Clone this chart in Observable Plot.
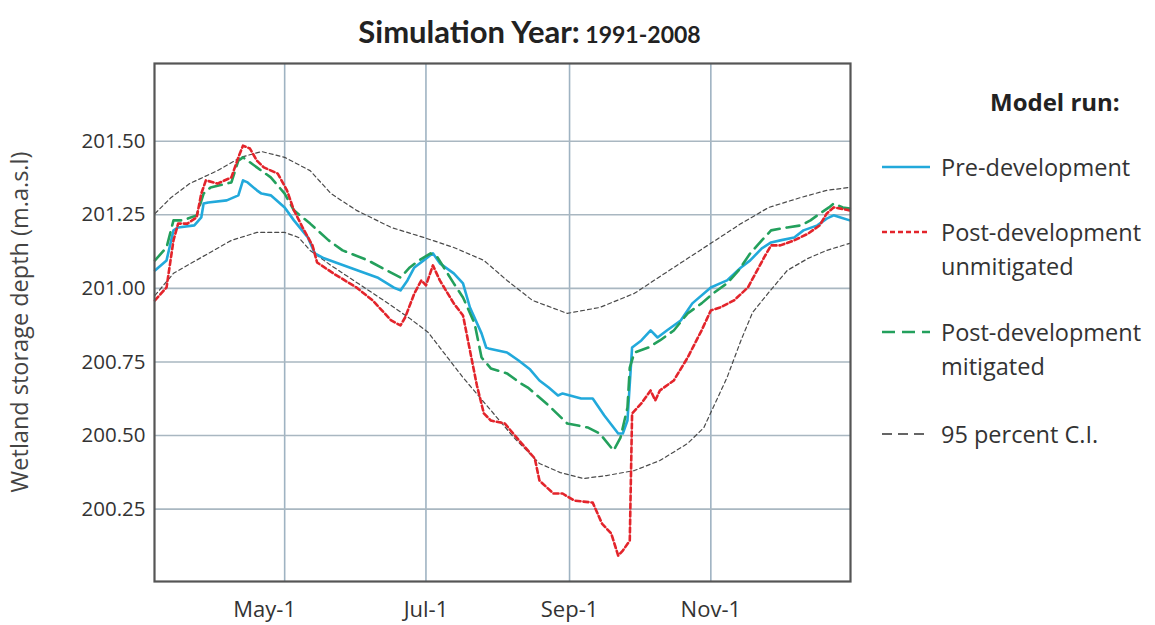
<!DOCTYPE html>
<html><head><meta charset="utf-8">
<script src="https://cdn.jsdelivr.net/npm/d3@7"></script>
<script src="https://cdn.jsdelivr.net/npm/@observablehq/plot@0.6"></script>
<style>
body{margin:0;background:#fff;font-family:"Open Sans",Lato,sans-serif;color:#222}
#wrap{position:relative;width:1155px;height:625px;overflow:hidden;background:#fff}
#title{position:absolute;left:0;width:1059px;top:12px;text-align:center;font-weight:700;color:#222;white-space:nowrap;font-family:Lato,"Open Sans",sans-serif}
#title .t1{font-size:31px}
#title .t2{font-size:23px}
#chart{position:absolute;left:0;top:0}
#ylab{position:absolute;left:19px;top:322px;transform:translate(-50%,-50%) rotate(-90deg);font-size:23.5px;color:#444;white-space:nowrap}
.leg{position:absolute;font-size:23.5px;color:#333;line-height:34px;white-space:nowrap}
.legt{position:absolute;left:990px;top:85px;font-size:24px;font-weight:700;color:#222}
.sw{position:absolute;left:882px}
</style></head><body>
<div id="wrap">
  <div id="chart"></div>
  <div id="title"><span class="t1">Simulation Year:</span><span class="t2"> 1991-2008</span></div>
  <div id="ylab">Wetland storage depth (m.a.s.l)</div>
  <div id="legend"></div>
</div>
<script>
// Day-of-year (Jan 1 = 0) and water level (m.a.s.l)
const preDevelopment = [[64,201.061],[69,201.095],[72,201.197],[74,201.207],[81,201.214],[84,201.241],[85,201.288],[87,201.292],[95,201.299],[100,201.316],[102,201.367],[104,201.360],[108,201.333],[110,201.322],[114,201.316],[120,201.275],[124,201.231],[130,201.173],[133,201.119],[137,201.102],[148,201.071],[160,201.037],[167,201.003],[170,200.993],[173,201.027],[176,201.071],[180,201.095],[184,201.119],[187,201.085],[193,201.051],[197,201.017],[200,200.935],[205,200.847],[207,200.799],[208,200.796],[216,200.782],[221,200.755],[226,200.724],[230,200.687],[234,200.663],[238,200.636],[240,200.643],[248,200.626],[253,200.626],[258,200.568],[264,200.507],[266,200.507],[268,200.551],[270,200.799],[274,200.823],[278,200.857],[281,200.833],[285,200.857],[291,200.891],[296,200.949],[304,201.003],[308,201.017],[311,201.027],[317,201.071],[321,201.095],[326,201.136],[330,201.156],[334,201.163],[340,201.173],[344,201.197],[350,201.214],[354,201.237],[357,201.248],[360,201.241],[364,201.231]];
const postUnmitigated = [[64,200.959],[69,201.003],[72,201.163],[74,201.220],[78,201.220],[82,201.241],[84,201.322],[86,201.367],[91,201.356],[97,201.377],[100,201.445],[102,201.485],[105,201.475],[108,201.434],[111,201.411],[117,201.390],[121,201.333],[124,201.265],[128,201.203],[132,201.146],[134,201.088],[141,201.051],[151,201.003],[158,200.959],[166,200.891],[170,200.874],[172,200.901],[176,200.983],[179,201.027],[181,201.010],[184,201.078],[187,201.027],[193,200.949],[197,200.908],[200,200.789],[203,200.670],[206,200.575],[209,200.551],[215,200.541],[222,200.476],[228,200.422],[230,200.347],[236,200.303],[240,200.303],[245,200.279],[253,200.272],[257,200.201],[261,200.167],[264,200.092],[266,200.109],[269,200.143],[270,200.575],[274,200.609],[278,200.653],[280,200.619],[282,200.653],[288,200.687],[294,200.765],[300,200.857],[304,200.925],[308,200.935],[314,200.959],[320,201.003],[324,201.061],[327,201.105],[330,201.146],[334,201.146],[340,201.163],[346,201.186],[351,201.214],[354,201.254],[357,201.275],[360,201.271],[364,201.265]];
const postMitigated = [[64,201.095],[69,201.139],[72,201.231],[76,201.231],[82,201.248],[85,201.322],[88,201.343],[97,201.360],[100,201.434],[102,201.445],[104,201.434],[108,201.411],[114,201.377],[120,201.322],[124,201.265],[131,201.220],[139,201.163],[145,201.129],[156,201.095],[164,201.061],[170,201.037],[174,201.071],[178,201.095],[183,201.119],[186,201.105],[193,201.017],[197,200.969],[202,200.881],[205,200.765],[209,200.728],[216,200.711],[222,200.677],[225,200.663],[234,200.602],[242,200.541],[251,200.527],[256,200.507],[262,200.449],[265,200.493],[268,200.595],[269,200.731],[271,200.782],[277,200.799],[282,200.823],[288,200.857],[294,200.915],[300,200.949],[305,200.983],[311,201.017],[316,201.061],[321,201.119],[326,201.163],[330,201.197],[337,201.207],[343,201.214],[347,201.231],[351,201.254],[355,201.275],[357,201.288],[361,201.275],[364,201.271]];
const ciUpper = [[64,201.254],[71,201.309],[79,201.356],[91,201.400],[101,201.445],[110,201.465],[120,201.445],[131,201.400],[140,201.322],[151,201.265],[166,201.207],[180,201.173],[193,201.139],[206,201.095],[216,201.027],[227,200.959],[242,200.915],[256,200.935],[271,200.983],[288,201.071],[304,201.153],[317,201.220],[329,201.275],[343,201.309],[354,201.333],[364,201.343]];
const ciLower = [[64,200.976],[72,201.051],[84,201.105],[97,201.163],[108,201.190],[120,201.190],[126,201.173],[131,201.129],[140,201.078],[153,201.010],[166,200.942],[174,200.898],[182,200.850],[187,200.799],[197,200.697],[208,200.595],[219,200.493],[230,200.405],[239,200.374],[249,200.354],[259,200.364],[271,200.381],[282,200.415],[294,200.473],[301,200.527],[305,200.595],[311,200.697],[317,200.823],[322,200.918],[329,200.986],[337,201.061],[346,201.102],[354,201.129],[364,201.153]];

const xTickDates = ["2001-05-01","2001-07-01","2001-09-01","2001-11-01"];
const xTickLabels = ["May-1","Jul-1","Sep-1","Nov-1"];
const yTicks = [200.25,200.50,200.75,201.00,201.25,201.50];
const seriesNames = ["Pre-development","Post-development unmitigated","Post-development mitigated","95 percent C.I."];

const base = Date.UTC(2001,0,1);
const toDate = d => new Date(base + d*864e5);
const rows = arr => arr.map(([d,v]) => ({date: toDate(d), value: v}));
const tickDates = xTickDates.map(s => new Date(s + "T00:00:00Z"));

const styles = {
  pre:{stroke:"#22a9db", strokeWidth:2.6},
  red:{stroke:"#e3242b", strokeWidth:2.6, strokeDasharray:"5,3"},
  green:{stroke:"#23a05c", strokeWidth:2.6, strokeDasharray:"13,7"},
  ci:{stroke:"#4a4a4a", strokeWidth:1.2, strokeDasharray:"4,3"}
};

const chart = Plot.plot({
  width: 860, height: 625,
  marginLeft: 154, marginRight: 10, marginTop: 63, marginBottom: 44,
  style:{fontFamily:"'Open Sans', Lato, sans-serif", background:"transparent"},
  x:{type:"utc", domain:[toDate(63.8), toDate(364.3)]},
  y:{domain:[200.004, 201.764]},
  marks:[
    Plot.gridX(tickDates, {stroke:"#9fb3c2", strokeOpacity:1, strokeWidth:1.6}),
    Plot.gridY(yTicks, {stroke:"#a9b7c1", strokeOpacity:1, strokeWidth:1.6}),
    Plot.lineY(rows(ciUpper), {x:"date", y:"value", ...styles.ci}),
    Plot.lineY(rows(ciLower), {x:"date", y:"value", ...styles.ci}),
    Plot.lineY(rows(preDevelopment), {x:"date", y:"value", ...styles.pre}),
    Plot.lineY(rows(postMitigated), {x:"date", y:"value", ...styles.green}),
    Plot.lineY(rows(postUnmitigated), {x:"date", y:"value", ...styles.red}),
    Plot.frame({stroke:"#555", strokeWidth:2.2}),
    Plot.axisY(yTicks, {tickSize:0, tickPadding:9, tickFormat:d3.format(".2f"), fontSize:20.5, fill:"#333", label:null}),
    Plot.axisX(tickDates.slice(0,1), {tickSize:0, tickPadding:20, dx:-20, tickFormat:() => xTickLabels[0], fontSize:22, fill:"#333", label:null}),
    Plot.axisX(tickDates.slice(1), {tickSize:0, tickPadding:20, tickFormat:d => xTickLabels[tickDates.findIndex(t => +t === +d)], fontSize:22, fill:"#333", label:null})
  ]
});
document.getElementById("chart").appendChild(chart);

// Legend
const leg = document.getElementById("legend");
const legItems = [
  {lines:[seriesNames[0]], top:150, st:styles.pre},
  {lines:["Post-development","unmitigated"], top:215, st:styles.red},
  {lines:["Post-development","mitigated"], top:315, st:styles.green},
  {lines:[seriesNames[3]], top:417, st:{stroke:"#333", strokeWidth:1.6, strokeDasharray:"10,6"}}
];
let html = '<div class="legt">Model run:</div>';
for (const it of legItems) {
  const s = it.st;
  html += `<svg class="sw" style="top:${it.top}px" width="50" height="34"><line x1="0" x2="48" y1="17" y2="17" stroke="${s.stroke}" stroke-width="${s.strokeWidth}" ${s.strokeDasharray ? `stroke-dasharray="${s.strokeDasharray}"` : ""}/></svg>`;
  html += `<div class="leg" style="left:941px;top:${it.top}px">${it.lines.join("<br>")}</div>`;
}
leg.innerHTML = html;
</script>
</body></html>
